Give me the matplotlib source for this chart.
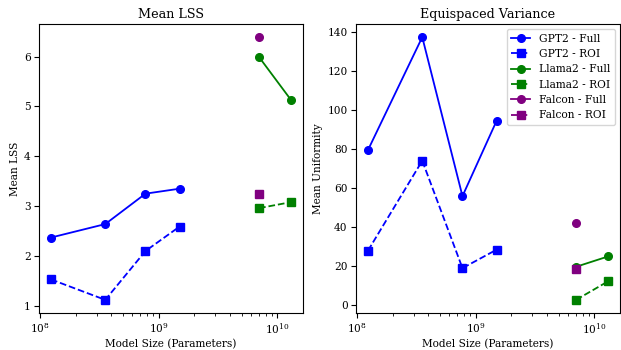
import matplotlib
matplotlib.use("Agg")
import matplotlib.pyplot as plt

plt.rcParams['font.family'] = ['DejaVu Serif']

gpt2_sizes = [124e6, 355e6, 774e6, 1.5e9]
llama2_sizes = [7e9, 13e9]
falcon_sizes = [7e9]

# Mean LSS
lss_gpt2_full = [2.37, 2.64, 3.25, 3.35]
lss_gpt2_roi = [1.53, 1.12, 2.10, 2.59]
lss_llama2_full = [5.99, 5.13]
lss_llama2_roi = [2.96, 3.08]
lss_falcon_full = [6.39]
lss_falcon_roi = [3.25]

# Equispaced variance
var_gpt2_full = [79.5, 137.5, 55.8, 94.5]
var_gpt2_roi = [27.8, 74.0, 18.8, 28.3]
var_llama2_full = [19.5, 24.8]
var_llama2_roi = [2.5, 12.0]
var_falcon_full = [42.2]
var_falcon_roi = [18.2]

fig = plt.figure(figsize=(6.21, 3.5), dpi=100)
ax1 = fig.add_axes([39 / 621, 1 - 313 / 350, 264 / 621, 289 / 350])
ax2 = fig.add_axes([356 / 621, 1 - 313 / 350, 264 / 621, 289 / 350])

panels = [
    (ax1, "Mean LSS", "Mean LSS",
     [lss_gpt2_full, lss_gpt2_roi, lss_llama2_full, lss_llama2_roi, lss_falcon_full, lss_falcon_roi]),
    (ax2, "Equispaced Variance", "Mean Uniformity",
     [var_gpt2_full, var_gpt2_roi, var_llama2_full, var_llama2_roi, var_falcon_full, var_falcon_roi]),
]

series = [("GPT2", gpt2_sizes, "blue"), ("Llama2", llama2_sizes, "green"), ("Falcon", falcon_sizes, "purple")]

for ax, title, ylabel, vals in panels:
    for i, (name, sizes, color) in enumerate(series):
        ax.plot(sizes, vals[2 * i], "-o", color=color, markersize=5.5, linewidth=1.3, label=name + " - Full")
        ax.plot(sizes, vals[2 * i + 1], "--s", color=color, markersize=5.5, linewidth=1.3, label=name + " - ROI")
    ax.set_xscale("log")
    ax.set_title(title, fontsize=9.2, pad=4)
    ax.set_xlabel("Model Size (Parameters)", fontsize=7.6, labelpad=2)
    ax.set_ylabel(ylabel, fontsize=7.6, labelpad=3)
    ax.tick_params(labelsize=7.6, pad=2.5)

ax2.legend(fontsize=7.7, handlelength=1.8)
plt.savefig("out.png")
